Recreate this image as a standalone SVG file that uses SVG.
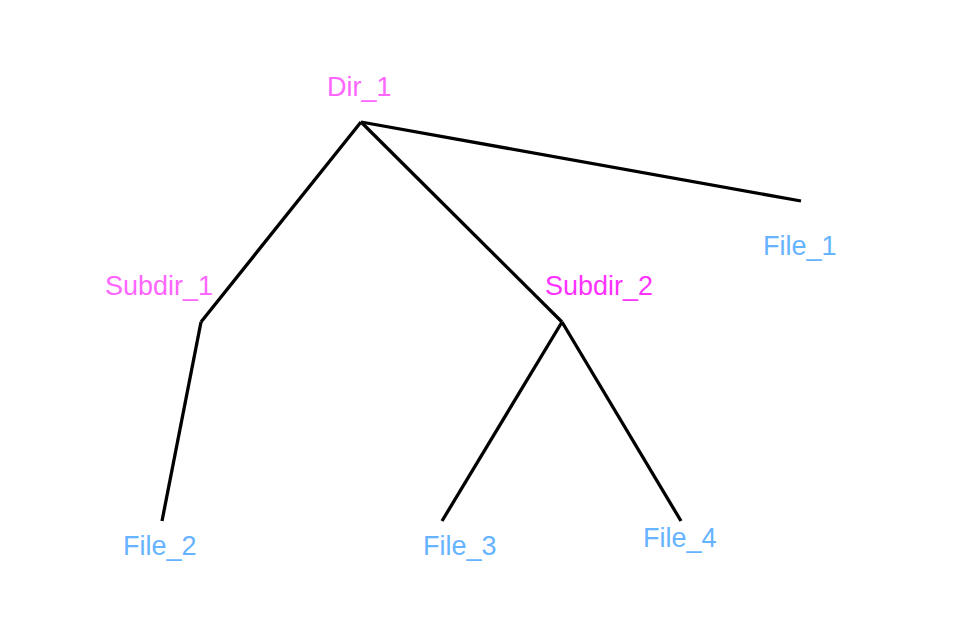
<svg xmlns="http://www.w3.org/2000/svg" width="960" height="640" viewBox="0 0 960 640">
<style>
text{font-family:"Liberation Sans",Arial,sans-serif;font-size:27px}
.dir{fill:#ff66ff}
.dir2{fill:#ff33ff}
.file{fill:#66b3ff}
.edge{stroke:#000;stroke-width:3.3;fill:none;stroke-linecap:butt}
</style>
<rect width="960" height="640" fill="#fff"/>
<g id="connectors">
<line class="edge" x1="361" y1="122" x2="801" y2="201"/>
<line class="edge" x1="361" y1="122" x2="201" y2="322"/>
<line class="edge" x1="361" y1="122" x2="562" y2="322"/>
<line class="edge" x1="201" y1="322" x2="162" y2="521"/>
<line class="edge" x1="562" y1="322" x2="442" y2="521"/>
<line class="edge" x1="562" y1="322" x2="681" y2="521"/>
</g>
<g id="dir1"><text class="dir" x="327" y="96">Dir_1</text></g>
<g id="subdir1"><text class="dir" x="105" y="295">Subdir_1</text></g>
<g id="subdir2"><text class="dir2" x="545" y="295">Subdir_2</text></g>
<g id="file1"><text class="file" x="763" y="255">File_1</text></g>
<g id="file2"><text class="file" x="123" y="555">File_2</text></g>
<g id="file3"><text class="file" x="423" y="555">File_3</text></g>
<g id="file4"><text class="file" x="643" y="547">File_4</text></g>
</svg>
